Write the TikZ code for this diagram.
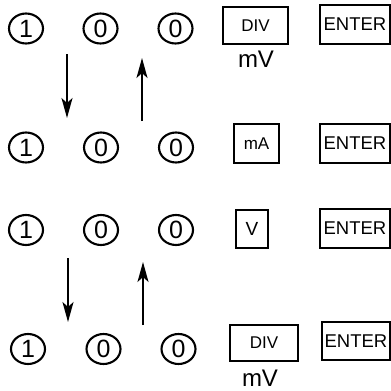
\documentclass[tikz,border=0pt]{standalone}
\usepackage{fontspec}
\setmainfont{Liberation Sans}
\usetikzlibrary{shapes.geometric,arrows.meta}
\begin{document}
\begin{tikzpicture}[x=1pt,y=-1pt,
  digit/.style={draw,ellipse,line width=2.1pt,minimum width=34pt,minimum height=30pt,inner sep=0pt,font=\fontsize{25}{25}\selectfont},
  key/.style={draw,rectangle,line width=2pt,inner sep=0pt},
  unit/.style={inner sep=0pt,font=\fontsize{24}{24}\selectfont},
  arr/.style={line width=2pt,-{Stealth[length=20pt,width=11pt,inset=5pt]}}]
\useasboundingbox (0,0) rectangle (391,391);
% row 1
\node[digit] (a1) at (26,28.5) {1};
\node[digit] (a2) at (100.5,28.5) {0};
\node[digit] (a3) at (175.5,28.5) {0};
\node[key,minimum width=65pt,minimum height=37pt,font=\fontsize{17}{17}\selectfont] (adiv) at (255.5,25.5) {DIV};
\node[key,minimum width=70pt,minimum height=39pt,font=\fontsize{18.5}{18.5}\selectfont] (aent) at (355,24.5) {ENTER};
\node[unit] (amv) at (256,59) {mV};
\coordinate (d1s) at (67,54); \coordinate (d1e) at (67,118);
\coordinate (u1s) at (142,121); \coordinate (u1e) at (142,58);
\draw[arr] (d1s) -- (d1e);
\draw[arr] (u1s) -- (u1e);
% row 2
\node[digit] (b1) at (26,147.5) {1};
\node[digit] (b2) at (101,147.5) {0};
\node[digit] (b3) at (176,147.5) {0};
\node[key,minimum width=45pt,minimum height=39pt,font=\fontsize{17}{17}\selectfont] (bma) at (256.5,143.5) {mA};
\node[key,minimum width=70pt,minimum height=39pt,font=\fontsize{18.5}{18.5}\selectfont] (bent) at (355,143.5) {ENTER};
% row 3
\node[digit] (c1) at (26,230) {1};
\node[digit] (c2) at (101,230) {0};
\node[digit] (c3) at (176,230) {0};
\node[key,minimum width=32pt,minimum height=38pt,font=\fontsize{19}{19}\selectfont] (cv) at (252,229) {V};
\node[key,minimum width=70pt,minimum height=39pt,font=\fontsize{18.5}{18.5}\selectfont] (cent) at (355,228.5) {ENTER};
\coordinate (d2s) at (68,258); \coordinate (d2e) at (68,322);
\coordinate (u2s) at (143,325); \coordinate (u2e) at (143,262);
\draw[arr] (d2s) -- (d2e);
\draw[arr] (u2s) -- (u2e);
% row 4
\node[digit] (e1) at (28,349) {1};
\node[digit] (e2) at (103.5,349) {0};
\node[digit] (e3) at (178.5,349) {0};
\node[key,minimum width=68pt,minimum height=36pt,font=\fontsize{17}{17}\selectfont] (ediv) at (264,343) {DIV};
\node[key,minimum width=68pt,minimum height=38pt,font=\fontsize{18.5}{18.5}\selectfont] (eent) at (356,341) {ENTER};
\node[unit] (emv) at (260,378) {mV};
\end{tikzpicture}
\end{document}
